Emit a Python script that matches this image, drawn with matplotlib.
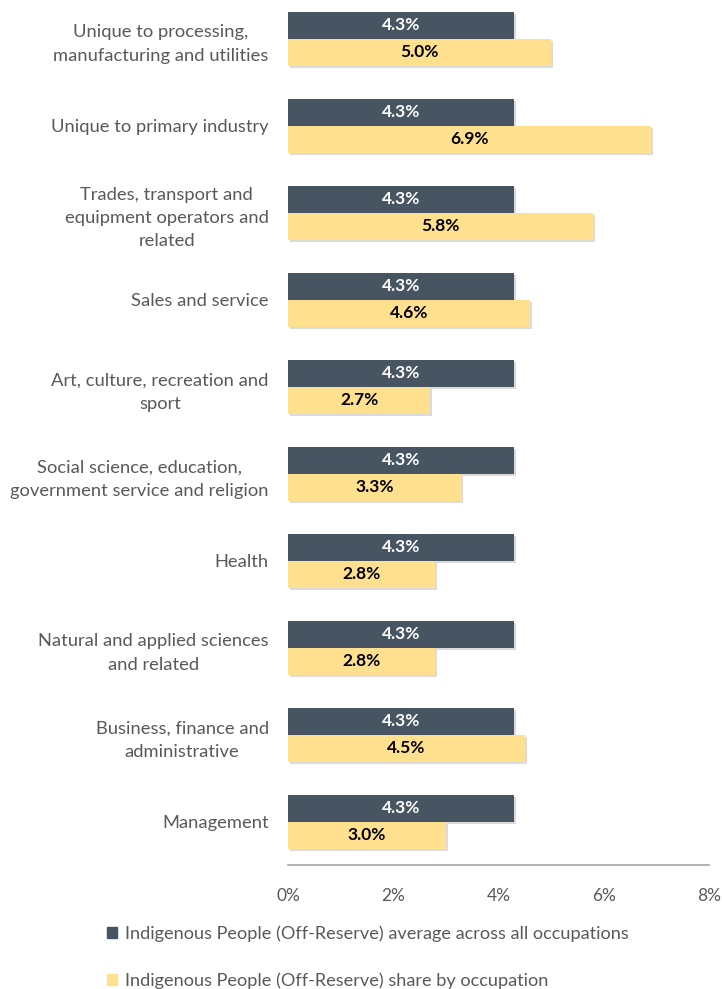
import numpy as np
import matplotlib.pyplot as plt
import matplotlib.patheffects as pe
from matplotlib.patches import Patch

categories = [
    "Unique to processing,\nmanufacturing and utilities",
    "Unique to primary industry",
    "Trades, transport and\nequipment operators and\nrelated",
    "Sales and service",
    "Art, culture, recreation and\nsport",
    "Social science, education,\ngovernment service and religion",
    "Health",
    "Natural and applied sciences\nand related",
    "Business, finance and\nadministrative",
    "Management",
]
avg_all = [4.3, 4.3, 4.3, 4.3, 4.3, 4.3, 4.3, 4.3, 4.3, 4.3]
share = [5.0, 6.9, 5.8, 4.6, 2.7, 3.3, 2.8, 2.8, 4.5, 3.0]
xticks = [0, 2, 4, 6, 8]
legend_labels = [
    "Indigenous People (Off-Reserve) average across all occupations",
    "Indigenous People (Off-Reserve) share by occupation",
]

dark = "#465561"
yellow = "#FEE08F"
grey = "#595959"

plt.rcParams['font.family'] = ['Lato', 'DejaVu Sans']

fig = plt.figure(figsize=(7.22, 9.89), dpi=100)
ax = fig.add_axes([0.399, 0.1249, 0.583, 0.8797])

y = np.arange(len(categories))
h = 0.31
shadow = [pe.SimplePatchShadow(offset=(1.2, -1.5), shadow_rgbFace="#888888", alpha=0.3), pe.Normal()]
ax.barh(y - h / 2, avg_all, height=h, color=dark, path_effects=shadow)
ax.barh(y + h / 2, share, height=h, color=yellow, path_effects=shadow)

for i in range(len(categories)):
    ax.text(avg_all[i] / 2, y[i] - h / 2, f"{avg_all[i]:.1f}%", ha="center", va="center",
            color="white", fontsize=12.5, fontweight="bold")
    ax.text(share[i] / 2, y[i] + h / 2, f"{share[i]:.1f}%", ha="center", va="center",
            color="black", fontsize=12.5, fontweight="bold")

ax.set_ylim(len(categories) - 0.5, -0.5)
ax.set_xlim(0, 8)
ax.set_yticks(y)
ax.set_yticklabels(categories, fontsize=13.2, color=grey, linespacing=1.55,
                   multialignment="center")
ax.set_xticks(xticks)
ax.set_xticklabels([f"{t}%" for t in xticks], fontsize=12.5, color=grey)
ax.tick_params(axis="y", length=0, pad=14)
ax.tick_params(axis="x", length=0, pad=16)
for s in ["top", "right", "left"]:
    ax.spines[s].set_visible(False)
ax.spines["bottom"].set_color("#A6A6A6")
ax.spines["bottom"].set_linewidth(1.2)

# legend rows below the axis
handles = [Patch(color=dark), Patch(color=yellow)]
fig.legend(handles, legend_labels, loc="lower left", bbox_to_anchor=(0.138, -0.007),
           frameon=False, fontsize=13.1, labelcolor=grey, ncol=1, handlelength=0.55,
           handleheight=0.55, handletextpad=0.45, labelspacing=1.68, borderaxespad=0)

fig.savefig("out.png", dpi=100)
